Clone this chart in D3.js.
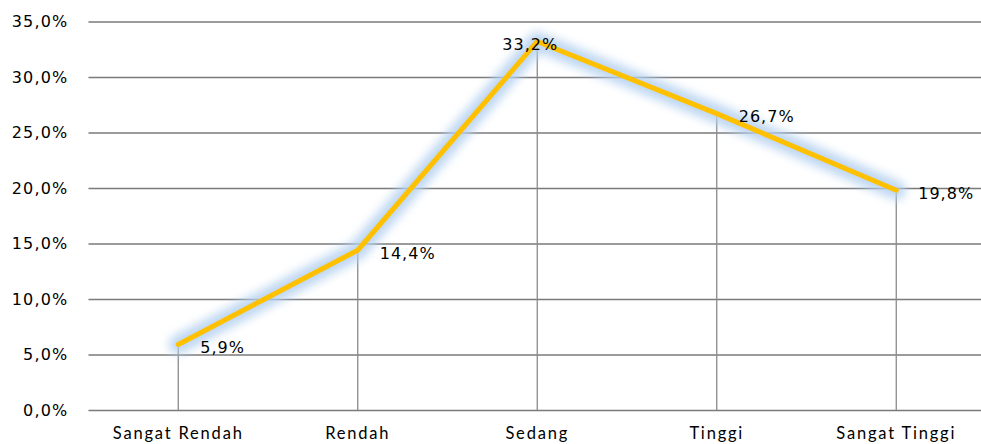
<!DOCTYPE html>
<html>
<head>
<meta charset="utf-8">
<script src="https://cdn.jsdelivr.net/npm/d3@7"></script>
<style>
  html, body { margin: 0; padding: 0; background: #fff; }
  svg { display: block; }
</style>
</head>
<body>
<div id="chart"></div>
<script>
const categories = ["Sangat Rendah", "Rendah", "Sedang", "Tinggi", "Sangat Tinggi"];
const values = [5.9, 14.4, 33.2, 26.7, 19.8];
const yTicks = [0, 5, 10, 15, 20, 25, 30, 35];

const W = 981, H = 444;
const margin = { left: 88.5, right: -5, top: 21.5, bottom: 34 };

const svg = d3.select("#chart").append("svg").attr("width", W).attr("height", H);

const x = d3.scaleBand().domain(categories).range([margin.left, W - margin.right]);
const y = d3.scaleLinear().domain([0, 35]).range([H - margin.bottom, margin.top]);
const cx = d => x(d) + x.bandwidth() / 2;
const fmt = v => v.toFixed(1).replace(".", ",") + "%";

const defs = svg.append("defs");
const f = defs.append("filter").attr("id", "glow").attr("x", "-20%").attr("y", "-20%").attr("width", "140%").attr("height", "140%");
f.append("feGaussianBlur").attr("stdDeviation", 5);

// gridlines
const yAxis = d3.axisLeft(y).tickValues(yTicks).tickFormat(fmt).tickSize(-(W - margin.left)).tickPadding(20);
const gy = svg.append("g").attr("transform", `translate(${margin.left},0)`).call(yAxis);
gy.select(".domain").remove();
gy.selectAll(".tick line").attr("stroke", "#7a7a7a").attr("stroke-width", 1.3);
gy.selectAll(".tick text").attr("fill", "#000").style("font-family", "DejaVu Sans, Verdana, sans-serif").style("font-size", "16px").style("letter-spacing", "1.2px");

// x axis labels
const xAxis = d3.axisBottom(x).tickSize(0).tickPadding(17);
const gx = svg.append("g").attr("transform", `translate(0,${y(0)})`).call(xAxis);
gx.select(".domain").remove();
gx.selectAll(".tick text").attr("fill", "#000").style("font-family", "Lato, 'Open Sans', sans-serif").style("font-size", "16.5px").style("letter-spacing", "1.8px");

// drop lines
svg.append("g").selectAll("line").data(categories).join("line")
  .attr("x1", d => cx(d)).attr("x2", d => cx(d))
  .attr("y1", (d, i) => y(values[i])).attr("y2", y(0))
  .attr("stroke", "#8a8a8a").attr("stroke-width", 1.3);

const line = d3.line().x((d, i) => cx(categories[i])).y(d => y(d));

// glow
svg.append("path").datum(values).attr("d", line)
  .attr("fill", "none").attr("stroke", "#b4d0f0").attr("stroke-width", 19)
  .attr("stroke-linejoin", "round").attr("stroke-linecap", "round")
  .attr("opacity", 0.85).attr("filter", "url(#glow)");

svg.append("path").datum(values).attr("d", line)
  .attr("fill", "none").attr("stroke", "#FFC000").attr("stroke-width", 5)
  .attr("stroke-linejoin", "miter").attr("stroke-linecap", "round");

// data labels
const maxV = d3.max(values);
svg.append("g").selectAll("text").data(values).join("text")
  .attr("x", (d, i) => d === maxV ? cx(categories[i]) - 7 : cx(categories[i]) + 22)
  .attr("y", (d, i) => y(d) + 3)
  .attr("dy", "0.35em")
  .attr("text-anchor", d => d === maxV ? "middle" : "start")
  .style("font-family", "DejaVu Sans, Verdana, sans-serif").style("font-size", "16px").style("letter-spacing", "1px")
  .attr("fill", "#000")
  .text(fmt);
</script>
</body>
</html>
